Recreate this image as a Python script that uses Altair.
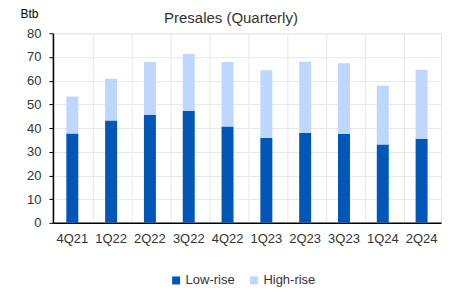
import altair as alt
import pandas as pd

quarters = ["4Q21", "1Q22", "2Q22", "3Q22", "4Q22", "1Q23", "2Q23", "3Q23", "1Q24", "2Q24"]
low_rise = [37.7, 43.2, 45.6, 47.3, 40.7, 35.8, 38.0, 37.6, 33.1, 35.5]
high_rise = [15.6, 17.6, 22.3, 24.0, 27.2, 28.6, 30.0, 29.7, 24.8, 29.1]
series = ["Low-rise", "High-rise"]
colors = ["#0057B8", "#BDD7FF"]

rows = []
for i, q in enumerate(quarters):
    rows.append({"Quarter": q, "Type": "Low-rise", "Value": low_rise[i], "ord": 0})
    rows.append({"Quarter": q, "Type": "High-rise", "Value": high_rise[i], "ord": 1})
df = pd.DataFrame(rows)

font = "Liberation Sans"

chart = alt.Chart(df).mark_bar(size=12).encode(
    x=alt.X("Quarter:N", sort=quarters, title=None,
            axis=alt.Axis(labelAngle=0, bandPosition=0, grid=True, ticks=False, domain=True,
                          domainColor="#000000", domainWidth=1.5, labelPadding=10,
                          labelFont=font, labelFontSize=13, labelColor="#333333",
                          gridColor="#e8e8e8", labelFlush=False)),
    y=alt.Y("Value:Q", stack="zero", scale=alt.Scale(domain=[0, 80]),
            axis=alt.Axis(values=list(range(0, 81, 10)), title="Btb", titleAngle=0,
                          titleAlign="left", titleX=-33, titleY=-13, titleFont=font,
                          titleFontSize=12, titleFontWeight="normal", titleColor="#000000",
                          labelFont=font, labelFontSize=13, labelColor="#333333",
                          domainColor="#000000", domainWidth=1.5, tickColor="#000000",
                          tickSize=4, labelPadding=8, gridColor="#e8e8e8")),
    color=alt.Color("Type:N", scale=alt.Scale(domain=series, range=colors),
                    legend=alt.Legend(title=None, orient="none", direction="horizontal",
                                      legendX=117, legendY=241, symbolType="square",
                                      symbolSize=64, symbolStrokeWidth=0,
                                      labelFont=font, labelFontSize=13, labelColor="#333333",
                                      columnPadding=12, labelOffset=3)),
    order=alt.Order("ord:Q"),
).properties(
    width=389, height=190,
    title=alt.TitleParams("Presales (Quarterly)", font=font, fontSize=15, fontWeight="normal",
                          color="#333333", anchor="middle", offset=-19, dx=-16),
    autosize=alt.AutoSizeParams(type="none"),
    padding={"left": 45, "top": 25, "right": 2, "bottom": 66},
).configure_view(stroke="#e8e8e8")

chart.save("out.html", embed_options={"renderer": "svg", "actions": False})
